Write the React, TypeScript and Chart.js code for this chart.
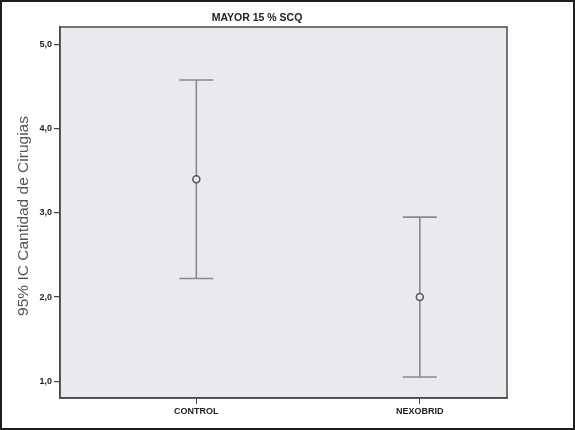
import React, { useEffect, useRef } from "react";
import { Chart, registerables } from "chart.js";

Chart.register(...registerables);

const chartTitle = "MAYOR 15 % SCQ";
const yAxisTitle = "95% IC Cantidad de Cirugias";
const categories = ["CONTROL", "NEXOBRID"];
const means = [3.40, 2.0];
const lowerCI = [2.22, 1.05];
const upperCI = [4.58, 2.95];
const yTickValues = [1, 2, 3, 4, 5];

const FONT = "'Liberation Sans', Arial, Helvetica, sans-serif";

const decorPlugin = {
  id: "decor",
  beforeDraw(chart: any) {
    const { ctx, chartArea } = chart;
    ctx.save();
    ctx.fillStyle = "#ffffff";
    ctx.fillRect(0, 0, chart.width, chart.height);
    ctx.fillStyle = "#e9eaee";
    ctx.fillRect(chartArea.left, chartArea.top, chartArea.right - chartArea.left, chartArea.bottom - chartArea.top);
    ctx.restore();
  },
  beforeDatasetsDraw(chart: any) {
    const { ctx } = chart;
    const xs = chart.scales.x;
    const ys = chart.scales.y;
    ctx.save();
    ctx.strokeStyle = "#8a8a8e";
    ctx.lineWidth = 1.6;
    const half = 17;
    categories.forEach((_, i) => {
      const px = xs.getPixelForValue(i + 1);
      const pl = ys.getPixelForValue(lowerCI[i]);
      const pu = ys.getPixelForValue(upperCI[i]);
      ctx.beginPath();
      ctx.moveTo(px, pu);
      ctx.lineTo(px, pl);
      ctx.moveTo(px - half, pu);
      ctx.lineTo(px + half, pu);
      ctx.moveTo(px - half, pl);
      ctx.lineTo(px + half, pl);
      ctx.stroke();
    });
    ctx.restore();
  },
  afterDraw(chart: any) {
    const { ctx, chartArea } = chart;
    ctx.save();
    ctx.strokeStyle = "#4a4a4a";
    ctx.lineWidth = 1.5;
    ctx.strokeRect(chartArea.left, chartArea.top, chartArea.right - chartArea.left, chartArea.bottom - chartArea.top);
    // title
    ctx.fillStyle = "#222";
    ctx.font = `bold 10.5px ${FONT}`;
    ctx.textAlign = "center";
    ctx.textBaseline = "middle";
    ctx.fillText(chartTitle, 257, 18);
    // y title
    ctx.save();
    ctx.translate(24, 216);
    ctx.rotate(-Math.PI / 2);
    ctx.fillStyle = "#555";
    ctx.font = `15.5px ${FONT}`;
    ctx.fillText(yAxisTitle, 0, 0);
    ctx.restore();
    // outer frame
    ctx.strokeStyle = "#1e1e1e";
    ctx.lineWidth = 2;
    ctx.strokeRect(1, 1, chart.width - 2, chart.height - 2);
    ctx.restore();
  },
};

export default function App() {
  const ref = useRef<HTMLCanvasElement>(null);
  useEffect(() => {
    document.body.style.margin = "0";
    const c = new Chart(ref.current!, {
      type: "scatter",
      data: {
        datasets: [
          {
            data: means.map((m, i) => ({ x: i + 1, y: m })),
            pointRadius: 3.5,
            pointBorderWidth: 1.5,
            pointBorderColor: "#555",
            pointBackgroundColor: "#e9eaee",
          },
        ],
      },
      options: {
        animation: false,
        responsive: false,
        layout: { padding: { top: 27, right: 68, left: 0, bottom: 0 } },
        plugins: { legend: { display: false }, tooltip: { enabled: false }, title: { display: false } },
        scales: {
          x: {
            type: "linear",
            min: 0.39,
            max: 2.39,
            afterBuildTicks: (s: any) => {
              s.ticks = categories.map((_, i) => ({ value: i + 1 }));
            },
            afterFit: (s: any) => {
              s.height = 32;
            },
            ticks: {
              autoSkip: false,
              maxRotation: 0,
              padding: 2,
              color: "#222",
              font: { family: FONT, size: 9, weight: "bold" },
              callback: (v: any) => categories[Math.round(v) - 1] ?? "",
            },
            grid: { drawOnChartArea: false, drawTicks: true, tickLength: 6, color: "#444", lineWidth: 1 },
            border: { display: true, color: "#4a4a4a", width: 1.5 },
          },
          y: {
            min: 0.8,
            max: 5.21,
            afterBuildTicks: (s: any) => {
              s.ticks = yTickValues.map((v) => ({ value: v }));
            },
            afterFit: (s: any) => {
              s.width = 60;
            },
            ticks: {
              padding: 2,
              color: "#222",
              font: { family: FONT, size: 9, weight: "bold" },
              callback: (v: any) => Number(v).toFixed(1).replace(".", ","),
            },
            grid: { drawOnChartArea: false, drawTicks: true, tickLength: 6, color: "#444", lineWidth: 1.2 },
            border: { display: true, color: "#4a4a4a", width: 1.5 },
          },
        },
      },
      plugins: [decorPlugin],
    });
    return () => c.destroy();
  }, []);
  return <canvas ref={ref} width={575} height={430} style={{ display: "block" }} />;
}
